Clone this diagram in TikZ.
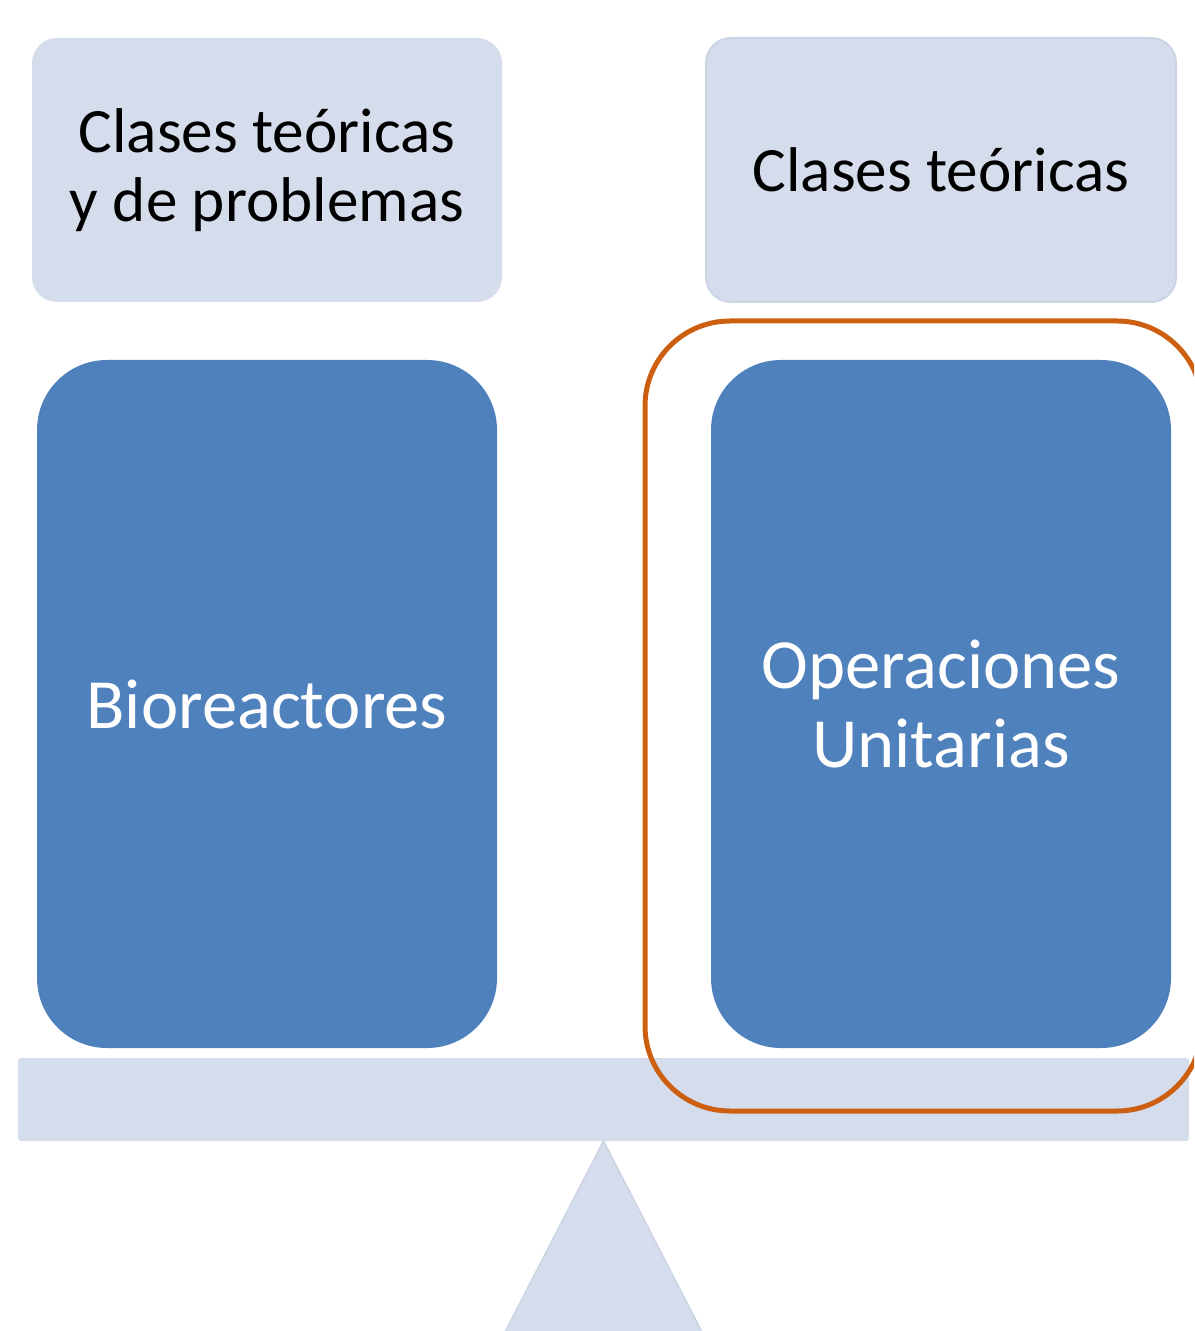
\documentclass[tikz,border=0pt]{standalone}
\usepackage{fontspec}
\setmainfont{Carlito}
\usepackage{tikz}
\usetikzlibrary{positioning}
\definecolor{panel}{RGB}{213,220,235}
\definecolor{paneledge}{RGB}{204,212,229}
\definecolor{pillar}{RGB}{79,129,189}
\definecolor{accent}{RGB}{204,96,16}

\begin{document}
\begin{tikzpicture}[node distance=29pt and 102pt,
  topic/.style={fill=panel,rounded corners=12.5pt,align=center,minimum width=235pt,minimum height=132pt,outer sep=0pt,inner sep=0pt,font=\fontsize{31.6pt}{34.5pt}\selectfont},
  core/.style={fill=pillar,rounded corners=35pt,align=center,minimum width=230pt,minimum height=344pt,outer sep=0pt,inner sep=0pt,text=white,font=\fontsize{35.3pt}{39.5pt}\selectfont},
  focus/.style={draw=accent,line width=2.5pt,rounded corners=42.5pt,minimum width=278.5pt,minimum height=395pt,outer sep=0pt,inner sep=0pt},
  beam/.style={fill=panel,rounded corners=1.5pt,minimum width=585.5pt,minimum height=41.5pt,outer sep=0pt,inner sep=0pt}]
\useasboundingbox (0,0) rectangle (597pt,-665.5pt);
\clip (0,0) rectangle (597pt,-665.5pt);
\node[topic] (t1) at (133.5pt,-85pt) {Clases teóricas\\y de problemas};
\node[topic,draw=paneledge,line width=1pt,right=102pt of t1] (t2) {Clases teóricas};
\node[core,below=29pt of t1] (b1) {Bioreactores};
\node[core,below=29pt of t2] (b2) {Operaciones\\Unitarias};
\node[beam] (bar) at (301.75pt,-549.75pt) {};
\fill[panel,draw=paneledge,line width=0.8pt] (bar.south) -- ++(-66.8pt,-129.5pt) -- ++(133.6pt,0) -- cycle;
\node[focus] (sel) at (461.75pt,-358pt) {};
\end{tikzpicture}
\end{document}
